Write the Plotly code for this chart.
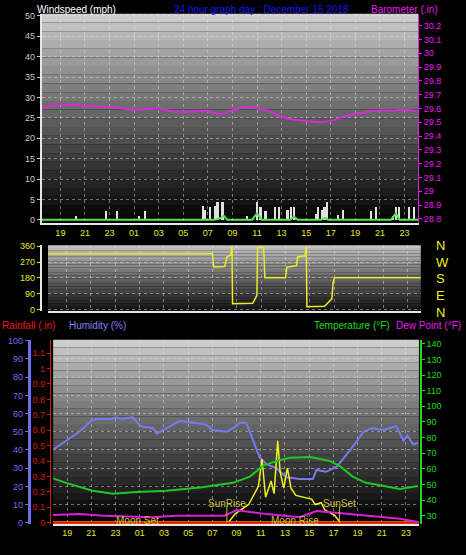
import plotly.graph_objects as go

# hours since midnight of the previous day (19 = 19:00 day 1, 25 = 01:00 day 2)
tick_hours = [19, 21, 23, 25, 27, 29, 31, 33, 35, 37, 39, 41, 43, 45, 47]
tick_text = ['19', '21', '23', '01', '03', '05', '07', '09', '11', '13', '15', '17', '19', '21', '23']

baro_t = [17.5, 19, 21, 23, 24, 25, 27, 28, 29, 31, 32, 33, 34, 35, 36, 37, 38, 39, 40, 41, 42, 43, 44, 45, 46, 47, 48]
baro_v = [29.60, 29.63, 29.62, 29.61, 29.60, 29.59, 29.60, 29.58, 29.575, 29.58, 29.56, 29.585, 29.61, 29.60, 29.58,
          29.54, 29.52, 29.51, 29.50, 29.51, 29.54, 29.56, 29.575, 29.585, 29.585, 29.59, 29.58]

gust_t = [20.3, 22.75, 23.6, 25.4, 25.9, 30.6, 30.8, 31.2, 31.6, 31.8, 32.2, 34.2, 35.0, 35.3, 35.7, 36.5, 36.8,
          37.5, 37.8, 38.0, 39.8, 40.0, 40.3, 40.5, 40.7, 41.6, 42.0, 44.3, 44.7, 46.1, 46.3, 46.6, 47.4, 47.8]
gust_v = [1, 2.3, 2.3, 1, 2.3, 3.5, 2.5, 3.2, 3.5, 4.3, 4.3, 1, 4.3, 3.3, 2.3, 3.3, 3.3,
          2.5, 3.3, 3.3, 1.5, 3.3, 2.5, 3.3, 4.3, 1.2, 2.5, 2.3, 3.3, 1, 3.3, 3.3, 3.3, 3.3]

avg_t = [17.5, 31.5, 32.0, 32.3, 32.6, 34.6, 35.0, 35.4, 37.7, 38.0, 38.3, 40.2, 40.5, 40.8, 45.9, 46.3, 46.6, 48.1]
avg_v = [0, 0, 0.4, 1.0, 0, 0, 1.6, 0, 0, 0.8, 0, 0, 0.5, 0, 0, 1.6, 0, 0]

dir_t = [17.5, 31.0, 31.1, 32.0, 32.2, 32.5, 32.6, 32.65, 34.3, 34.5, 34.65, 34.7, 35.2, 35.3, 37.0, 37.1, 37.9,
         38.0, 38.6, 38.7, 38.75, 40.2, 40.6, 40.8, 40.9, 41.0, 48.1]
dir_v = [317, 317, 242, 245, 300, 310, 360, 32, 35, 60, 80, 355, 355, 180, 180, 240, 250,
         300, 305, 360, 15, 18, 50, 60, 150, 180, 180]

hum_t = [17.8, 18.9, 20.0, 21.0, 21.4, 22.6, 23.0, 23.6, 24.4, 25.1, 26.1, 26.4, 27.2, 28.3, 29.4, 30.5, 31.0,
         32.2, 32.7, 33.3, 33.8, 34.9, 35.5, 36.3, 37.1, 38.2, 39.3, 39.6, 40.4, 41.3, 42.4, 43.5, 44.2, 45.1,
         46.2, 46.8, 47.1, 47.6, 48.0]
hum_v = [40, 45, 50, 56, 57, 57, 58, 57, 58, 53, 52, 49, 52, 56, 55, 54, 51,
         50, 52, 55, 55, 36, 32, 30, 25, 24, 24, 29, 28, 31, 40, 50, 52, 51,
         53, 45, 48, 43, 44]

temp_t = [17.8, 18.9, 21.1, 22.8, 24.4, 27.2, 30.0, 32.7, 34.1, 35.2, 36.3, 37.4, 39.1, 40.7, 41.5, 42.6, 43.7,
          45.1, 46.5, 48.0]
temp_v = [54, 51, 46, 44, 45, 46, 48, 51, 55, 62, 65, 67, 67.5, 65, 62, 55, 51, 49, 47, 49]

dew_t = [17.8, 20.0, 22.0, 24.0, 26.0, 28.0, 30.0, 32.0, 33.0, 35.5, 38.2, 39.6, 41.0, 43.7, 46.5, 48.0]
dew_v = [30.5, 31, 30, 29.5, 29, 30, 30, 30, 33.5, 31, 29, 33, 32, 30, 28, 26]

solar_t = [32.3, 32.9, 34.0, 34.8, 35.1, 35.4, 35.7, 35.85, 36.1, 36.4, 36.6, 36.9, 37.2, 37.5, 37.9, 38.7,
           39.2, 39.5, 40.0, 40.3, 41.1, 41.6]
solar_v = [0, 5, 10, 20, 35, 14, 20, 23, 16, 45, 28, 19, 30, 19, 15, 14, 13, 10, 11, 7, 4, 0]

rain_t = [17.8, 48.1]
rain_v = [0, 0]

tick_font = dict(family='Liberation Sans', size=9)
grid = dict(showgrid=True, gridcolor='rgba(230,230,230,0.45)', griddash='dot', gridwidth=1, zeroline=False)

fig = go.Figure()

# top panel: wind + barometer
fig.add_trace(go.Bar(x=gust_t, y=gust_v, width=0.14, marker=dict(color='rgb(225,225,225)', line=dict(width=0)),
                     xaxis='x', yaxis='y'))
fig.add_trace(go.Scatter(x=avg_t, y=avg_v, mode='lines', line=dict(color='rgb(80,230,80)', width=2), xaxis='x', yaxis='y'))
fig.add_trace(go.Scatter(x=baro_t, y=baro_v, mode='lines', line=dict(color='rgb(220,40,220)', width=2, shape='spline'),
                         xaxis='x', yaxis='y2'))

# middle panel: wind direction
fig.add_trace(go.Scatter(x=dir_t, y=dir_v, mode='lines', line=dict(color='rgb(235,235,40)', width=1.5),
                         xaxis='x2', yaxis='y3'))

# bottom panel
fig.add_trace(go.Scatter(x=hum_t, y=hum_v, mode='lines', line=dict(color='rgb(120,120,240)', width=2),
                         xaxis='x3', yaxis='y4'))
fig.add_trace(go.Scatter(x=solar_t, y=solar_v, mode='lines', line=dict(color='rgb(240,240,30)', width=1.5),
                         xaxis='x3', yaxis='y4'))
fig.add_trace(go.Scatter(x=rain_t, y=rain_v, mode='lines', line=dict(color='rgb(255,140,0)', width=3),
                         xaxis='x3', yaxis='y5'))
fig.add_trace(go.Scatter(x=rain_t, y=rain_v, mode='lines', line=dict(color='rgb(255,0,0)', width=1.5),
                         xaxis='x3', yaxis='y5'))
fig.add_trace(go.Scatter(x=temp_t, y=temp_v, mode='lines', line=dict(color='rgb(30,200,30)', width=2),
                         xaxis='x3', yaxis='y6'))
fig.add_trace(go.Scatter(x=dew_t, y=dew_v, mode='lines', line=dict(color='rgb(220,30,220)', width=2),
                         xaxis='x3', yaxis='y6'))

# gradient backgrounds
shapes = []
for xr, yr, top, bot in [('x', 'y', 205, 5), ('x2', 'y3', 195, 20), ('x3', 'y4', 205, 0)]:
    n = 24
    for i in range(n):
        c = int(top + (bot - top) * (i / (n - 1)) ** 0.9)
        shapes.append(dict(type='rect', xref=xr + ' domain', yref=yr + ' domain', x0=0, x1=1,
                           y0=1 - (i + 1) / n, y1=1 - i / n, fillcolor=f'rgb({c},{c},{c})',
                           line=dict(width=0), layer='below'))
for h in [32.2, 41.5]:
    shapes.append(dict(type='line', xref='x3', yref='y4', x0=h, x1=h, y0=0, y1=9,
                       line=dict(color='rgb(200,190,60)', width=1)))

xcommon = dict(range=[17.5, 48.1], tickvals=tick_hours, ticktext=tick_text, tickfont=dict(color='rgb(230,230,40)', **tick_font),
               showline=True, linecolor='rgb(230,230,230)', linewidth=2, ticks='', **grid)

fig.update_layout(
    width=466, height=555, margin=dict(l=0, r=0, t=0, b=0),
    paper_bgcolor='black', plot_bgcolor='black', showlegend=False, bargap=0, shapes=shapes,
    xaxis=dict(domain=[0.090, 0.897], anchor='y', **xcommon),
    yaxis=dict(domain=[0.600, 0.982], range=[-0.72, 50.48], dtick=5, tickfont=dict(color='rgb(200,200,200)', **tick_font),
               ticks='outside', ticklen=3, tickcolor='rgb(200,200,200)', showline=True, linecolor='rgb(230,230,230)',
               linewidth=2, **grid),
    yaxis2=dict(overlaying='y', side='right', range=[28.771, 30.286],
                tickvals=[28.8, 28.9, 29.0, 29.1, 29.2, 29.3, 29.4, 29.5, 29.6, 29.7, 29.8, 29.9, 30.0, 30.1, 30.2],
                ticktext=['28.8', '28.9', '29', '29.1', '29.2', '29.3', '29.4', '29.5', '29.6', '29.7', '29.8', '29.9', '30', '30.1', '30.2'],
                tickfont=dict(color='rgb(230,30,230)', **tick_font), ticks='outside', ticklen=3,
                tickcolor='rgb(230,30,230)', showline=True, linecolor='rgb(230,30,230)', showgrid=False),
    xaxis2=dict(domain=[0.103, 0.903], anchor='y3', range=[17.5, 48.1], tickvals=tick_hours, showticklabels=False,
                showline=True, linecolor='rgb(230,230,230)', linewidth=2, **grid),
    yaxis3=dict(domain=[0.438, 0.559], range=[-11.25, 365.6], tickvals=[0, 90, 180, 270, 360],
                tickfont=dict(color='rgb(230,230,40)', **tick_font), ticks='outside', ticklen=3,
                tickcolor='rgb(230,230,40)', showline=True, linecolor='rgb(230,230,230)', linewidth=2, **grid),
    xaxis3=dict(domain=[0.114, 0.899], anchor='y4', **{**xcommon, 'range': [17.84, 48.07]}),
    yaxis4=dict(domain=[0.050, 0.386], anchor='free', position=0.062, range=[-0.5, 100.5], dtick=10,
                tickfont=dict(color='rgb(110,110,240)', **tick_font), ticks='outside', ticklen=3,
                tickcolor='rgb(110,110,240)', showline=True, linecolor='rgb(110,110,240)', linewidth=3, **grid),
    yaxis5=dict(overlaying='y4', anchor='free', position=0.107, range=[-0.006, 1.186],
                tickvals=[0, 0.1, 0.2, 0.3, 0.4, 0.5, 0.6, 0.7, 0.8, 0.9, 1.0, 1.1],
                ticktext=['0', '0.1', '0.2', '0.3', '0.4', '0.5', '0.6', '0.7', '0.8', '0.9', '1', '1.1'],
                tickfont=dict(color='rgb(220,20,20)', **tick_font), ticks='outside', ticklen=3,
                tickcolor='rgb(220,20,20)', showline=True, linecolor='rgb(220,20,20)', showgrid=False),
    yaxis6=dict(overlaying='y4', anchor='free', position=0.903, side='right', range=[24.9, 142.5],
                tickvals=[30, 40, 50, 60, 70, 80, 90, 100, 110, 120, 130, 140],
                tickfont=dict(color='rgb(30,220,30)', **tick_font), ticks='outside', ticklen=3,
                tickcolor='rgb(30,220,30)', showline=True, linecolor='rgb(30,220,30)', linewidth=2, showgrid=False),
)

ann = [
    dict(text='Windspeed (mph)', x=35, y=6, color='white', a='left'),
    dict(text='24 hour graph day : December 15 2018', x=172, y=6, color='rgb(20,20,240)', a='left'),
    dict(text='Barometer (.in)', x=440, y=6, color='rgb(230,30,230)', a='right'),
    dict(text='Rainfall (.in)', x=0, y=326, color='rgb(240,20,20)', a='left'),
    dict(text='Humidity (%)', x=67, y=326, color='rgb(130,130,240)', a='left'),
    dict(text='Temperature (°F)', x=392, y=326, color='rgb(30,220,30)', a='right'),
    dict(text='Dew Point (°F)', x=463, y=326, color='rgb(230,30,230)', a='right'),
]
for i, d in enumerate(['N', 'W', 'S', 'E', 'N']):
    ann.append(dict(text=d, x=434, y=245 + i * 17, color='rgb(240,240,30)', size=13, a='left'))
annotations = [dict(text=a['text'], xref='paper', yref='paper', x=a['x'] / 466, y=1 - a['y'] / 555,
                    xanchor=a['a'], yanchor='middle', showarrow=False,
                    font=dict(family='Liberation Sans', size=a.get('size', 10), color=a['color']))
               for a in ann]
for txt, h, v in [('SunRise', 32.2, 10.5), ('SunSet', 41.5, 10.5), ('Moon Set', 24.85, 1.2), ('Moon Rise', 37.8, 1.2)]:
    annotations.append(dict(text=txt, xref='x3', yref='y4', x=h, y=v, showarrow=False, yanchor='middle',
                            font=dict(family='Liberation Sans', size=10, color='rgb(200,190,60)')))
fig.update_layout(annotations=annotations)

# the page's default body margin would shift the chart by 8px
fig.write_html("out.html", config={'displayModeBar': False},
               post_script="document.body.style.margin='0';document.body.style.background='black';")
